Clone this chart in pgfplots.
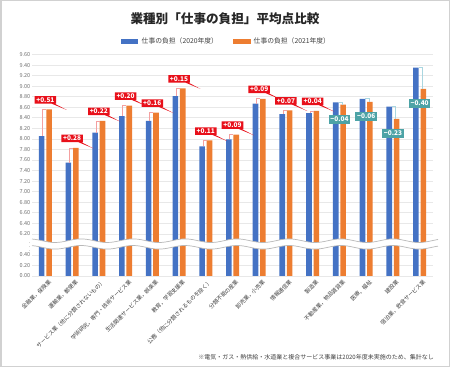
\documentclass[border=0pt]{standalone}
\usepackage{fontspec}
\setmainfont{Noto Sans CJK JP}
\usepackage{pgfplots}
\usepackage{pgfplotstable}
\usetikzlibrary{shapes.callouts}
\pgfplotsset{compat=1.18}
\definecolor{cblue}{HTML}{4472C4}
\definecolor{corange}{HTML}{ED7D31}
\definecolor{labred}{HTML}{E8101A}
\definecolor{labteal}{HTML}{4DA3A6}
\definecolor{brred}{HTML}{F4A0A0}
\definecolor{brteal}{HTML}{A9D6E0}
\definecolor{gridc}{HTML}{E8E8E8}
\definecolor{tickc}{HTML}{707070}
\definecolor{labc}{HTML}{404040}

\pgfplotstableread{
x a b
0 8.05 8.56
1 7.55 7.83
2 8.12 8.34
3 8.43 8.63
4 8.34 8.50
5 8.81 8.96
6 7.86 7.97
7 7.99 8.08
8 8.67 8.76
9 8.47 8.54
10 8.49 8.53
11 8.69 8.65
12 8.76 8.70
13 8.61 8.38
14 9.35 8.95
}\data

\tikzset{
  poslab/.style={rectangle callout, callout relative pointer={(0,-6.3pt)}, callout pointer width=3pt,
    anchor=south, yshift=5.5pt, fill=labred, text=white,
    font=\fontsize{6.5}{7}\selectfont\bfseries, text height=4.9pt, text depth=0.4pt,
    inner xsep=1.7pt, inner ysep=1.1pt},
  neglab/.style={anchor=north, yshift=-10pt, fill=labteal, text=white,
    font=\fontsize{6.5}{7}\selectfont\bfseries, text height=4.9pt, text depth=0.4pt,
    inner xsep=1.8pt, inner ysep=1.8pt},
}

\begin{document}
\begin{tikzpicture}
\useasboundingbox (0pt,0pt) rectangle (450pt,367pt);
\begin{scope}[x=1pt,y=1pt]
\fill[white] (0,0) rectangle (450,367);
\draw[black!18, line width=1.5pt] (0.75,0.75) rectangle (449.25,366.25);
\node[font=\fontsize{12.6}{14}\selectfont\bfseries, text=black!85] at (225,348) {業種別「仕事の負担」平均点比較};
\fill[cblue] (120.7,323.3) rectangle (137.7,328.3);
\node[anchor=west, font=\fontsize{6.8}{8}\selectfont, text=labc, inner sep=0] at (141.5,325.8) {仕事の負担（2020年度）};
\fill[corange] (233.3,323.3) rectangle (250.7,328.3);
\node[anchor=west, font=\fontsize{6.8}{8}\selectfont, text=labc, inner sep=0] at (253.5,325.8) {仕事の負担（2021年度）};
\end{scope}
\begin{axis}[
  at={(32pt,91pt)}, anchor=south west,
  scale only axis, width=401pt, height=221.5pt,
  xmin=-0.5, xmax=14.5, ymin=0, ymax=4.2,
  clip=false,
  axis line style={draw=none},
  major tick length=0pt,
  ymajorgrids, grid style={gridc, line width=0.6pt},
  ytick={0,0.2,0.4,0.6,0.8,1.0,1.2,1.4,1.6,1.8,2.0,2.2,2.4,2.6,2.8,3.0,3.2,3.4,3.6,3.8,4.0,4.2},
  yticklabels={0.00,0.20,0.40,{$\vdots$},6.20,6.40,6.60,6.80,7.00,7.20,7.40,7.60,7.80,8.00,8.20,8.40,8.60,8.80,9.00,9.20,9.40,9.60},
  yticklabel style={font=\fontsize{5.5}{6}\selectfont, text=tickc, inner xsep=1.5pt},
  xtick={0,...,14},
  xticklabels={{金融業，保険業},{運輸業，郵便業},{サービス業（他に分類されないもの）},{学術研究，専門・技術サービス業},{生活関連サービス業，娯楽業},{教育，学習支援業},{公務（他に分類されるものを除く）},{分類不能の産業},{卸売業，小売業},{情報通信業},{製造業},{不動産業，物品賃貸業},{医療，福祉},{建設業},{宿泊業，飲食サービス業}},
  xticklabel style={rotate=45, anchor=north east, font=\fontsize{5.5}{6}\selectfont, text=labc, inner sep=1pt, yshift=-3pt, xshift=1pt},
]
\addplot[ybar, bar width=5.6pt, bar shift=-3.7pt, fill=cblue, draw=none] table[x=x, y expr=\thisrow{a}-5.4]{\data};
\addplot[ybar, bar width=5.6pt, bar shift=3.7pt, fill=corange, draw=none] table[x=x, y expr=\thisrow{b}-5.4]{\data};
\pgfplotsinvokeforeach{0,...,14}{
  \pgfplotstablegetelem{#1}{a}\of\data
  \pgfmathsetmacro\va{\pgfplotsretval-5.4}
  \pgfplotstablegetelem{#1}{b}\of\data
  \pgfmathsetmacro\vb{\pgfplotsretval-5.4}
  \pgfmathsetmacro\dd{\vb-\va}
  \pgfmathtruncatemacro\nn{abs(round(\dd*100))}
  \ifnum\nn<10 \edef\lab{0.0\nn}\else\edef\lab{0.\nn}\fi
  \pgfmathsetmacro\xa{#1-0.105}
  \pgfmathsetmacro\xb{#1+0.03}
  \pgfmathsetmacro\xc{#1-0.03}
  \pgfmathsetmacro\xd{#1+0.105}
  \ifdim\dd pt>0pt
    \edef\tmp{\noexpand\addplot[brred, line width=0.6pt, forget plot] coordinates {(\xa,\va) (\xa,\vb) (\xb,\vb)};
    \noexpand\addplot[draw=none, mark=none, forget plot, nodes near coords={+\lab}, nodes near coords style={poslab}] coordinates {(#1,\vb)};}
  \else
    \edef\tmp{\noexpand\addplot[brteal, line width=0.6pt, forget plot] coordinates {(\xc,\va) (\xd,\va) (\xd,\vb)};
    \noexpand\addplot[draw=none, mark=none, forget plot, nodes near coords={−\lab}, nodes near coords style={neglab}] coordinates {(#1,\vb)};}
  \fi
  \tmp
}
\end{axis}
\begin{scope}[x=1pt,y=1pt]
\fill[white] plot[domain=32:438, samples=120] (\x, {126.3+1.8*sin((\x-172)*6.923)}) -- plot[domain=438:32, samples=120] (\x, {119.7+1.8*sin((\x-172)*6.923)}) -- cycle;
\draw[black!28, line width=0.7pt] plot[domain=32:438, samples=120] (\x, {126.3+1.8*sin((\x-172)*6.923)});
\draw[black!28, line width=0.7pt] plot[domain=32:438, samples=120] (\x, {119.7+1.8*sin((\x-172)*6.923)});
\node[anchor=east, font=\fontsize{6}{7}\selectfont, text=labc, inner sep=0] at (434,9.5) {※電気・ガス・熱供給・水道業と複合サービス事業は2020年度未実施のため、集計なし};
\end{scope}
\end{tikzpicture}
\end{document}
